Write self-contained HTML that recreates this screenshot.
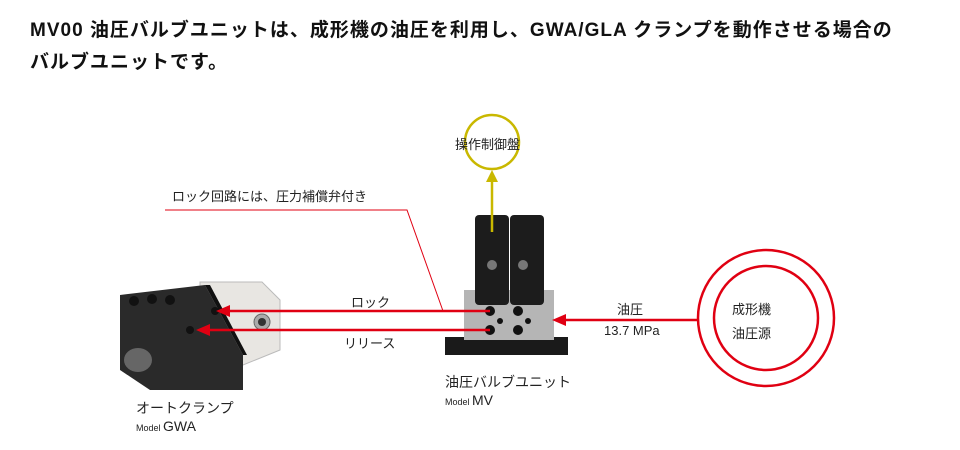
<!DOCTYPE html>
<html><head><meta charset="utf-8"><style>
body{margin:0;width:960px;height:450px;background:#fff;overflow:hidden;font-family:"Liberation Sans","Noto Sans CJK JP",sans-serif;}
.t{position:absolute;left:30px;font-weight:bold;font-size:19px;letter-spacing:1px;color:#111;white-space:nowrap;}
.l{position:absolute;font-size:13px;color:#222;white-space:nowrap;}
</style></head><body>
<div class="t" style="top:15px">MV00 油圧バルブユニットは、成形機の油圧を利用し、GWA/GLA クランプを動作させる場合の</div>
<div class="t" style="top:47px">バルブユニットです。</div>
<svg width="960" height="450" style="position:absolute;left:0;top:0">
<!-- clamp -->
<polygon points="200,282 262,282 280,300 280,350 243,365 200,300" fill="#e8e6e2" stroke="#bbb"/>
<polygon points="120,295 205,285 243,355 243,390 150,390 120,370" fill="#2a2a2a"/>
<polygon points="205,285 243,355 247,355 210,285" fill="#111"/>
<circle cx="262" cy="322" r="8" fill="#aaa" stroke="#666"/>
<circle cx="262" cy="322" r="4" fill="#333"/>
<ellipse cx="138" cy="360" rx="14" ry="12" fill="#666"/>
<circle cx="134" cy="301" r="5" fill="#111"/><circle cx="152" cy="299" r="5" fill="#111"/><circle cx="170" cy="300" r="5" fill="#111"/>
<circle cx="215" cy="311" r="4" fill="#111"/><circle cx="190" cy="330" r="4" fill="#111"/>
<!-- valve -->
<rect x="445" y="337" width="123" height="18" fill="#1a1a1a"/>
<rect x="464" y="290" width="90" height="50" fill="#b5b5b5"/>
<rect x="475" y="215" width="34" height="90" rx="4" fill="#1c1c1c"/>
<rect x="510" y="215" width="34" height="90" rx="4" fill="#1c1c1c"/>
<circle cx="492" cy="265" r="5" fill="#777"/><circle cx="523" cy="265" r="5" fill="#777"/>
<circle cx="490" cy="311" r="5" fill="#111"/><circle cx="518" cy="311" r="5" fill="#111"/>
<circle cx="490" cy="330" r="5" fill="#111"/><circle cx="518" cy="330" r="5" fill="#111"/>
<circle cx="500" cy="321" r="3" fill="#111"/><circle cx="528" cy="321" r="3" fill="#111"/>
<!-- lines -->
<polyline points="165,210 407,210 443,311" fill="none" stroke="#e00012" stroke-width="1"/>
<g stroke="#e00012" stroke-width="2.5" fill="#e00012">
<line x1="490" y1="311" x2="226" y2="311"/><polygon points="216,311 230,305 230,317" stroke="none"/>
<line x1="490" y1="330" x2="206" y2="330"/><polygon points="196,330 210,324 210,336" stroke="none"/>
<line x1="697" y1="320" x2="562" y2="320"/><polygon points="552,320 566,314 566,326" stroke="none"/>
</g>
<circle cx="766" cy="318" r="68" fill="none" stroke="#e00012" stroke-width="2.5"/>
<circle cx="766" cy="318" r="52" fill="none" stroke="#e00012" stroke-width="2.5"/>
<g stroke="#c9b800" stroke-width="2.5" fill="#c9b800">
<circle cx="492" cy="142" r="27" fill="none"/>
<line x1="492" y1="232" x2="492" y2="180"/><polygon points="492,170 486,182 498,182" stroke="none"/>
</g>
</svg>
<div class="l" style="left:455px;top:134px">操作制御盤</div>
<div class="l" style="left:172px;top:186px">ロック回路には、圧力補償弁付き</div>
<div class="l" style="left:351px;top:292px">ロック</div>
<div class="l" style="left:344px;top:333px">リリース</div>
<div class="l" style="left:617px;top:299px">油圧</div>
<div class="l" style="left:604px;top:323px">13.7 MPa</div>
<div class="l" style="left:732px;top:299px">成形機</div>
<div class="l" style="left:732px;top:323px">油圧源</div>
<div class="l" style="left:445px;top:372px;font-size:14px">油圧バルブユニット</div>
<div class="l" style="left:445px;top:392px;font-size:14px"><span style="font-size:9px">Model </span>MV</div>
<div class="l" style="left:136px;top:398px;font-size:14px">オートクランプ</div>
<div class="l" style="left:136px;top:418px;font-size:14px"><span style="font-size:9px">Model </span>GWA</div>
</body></html>
